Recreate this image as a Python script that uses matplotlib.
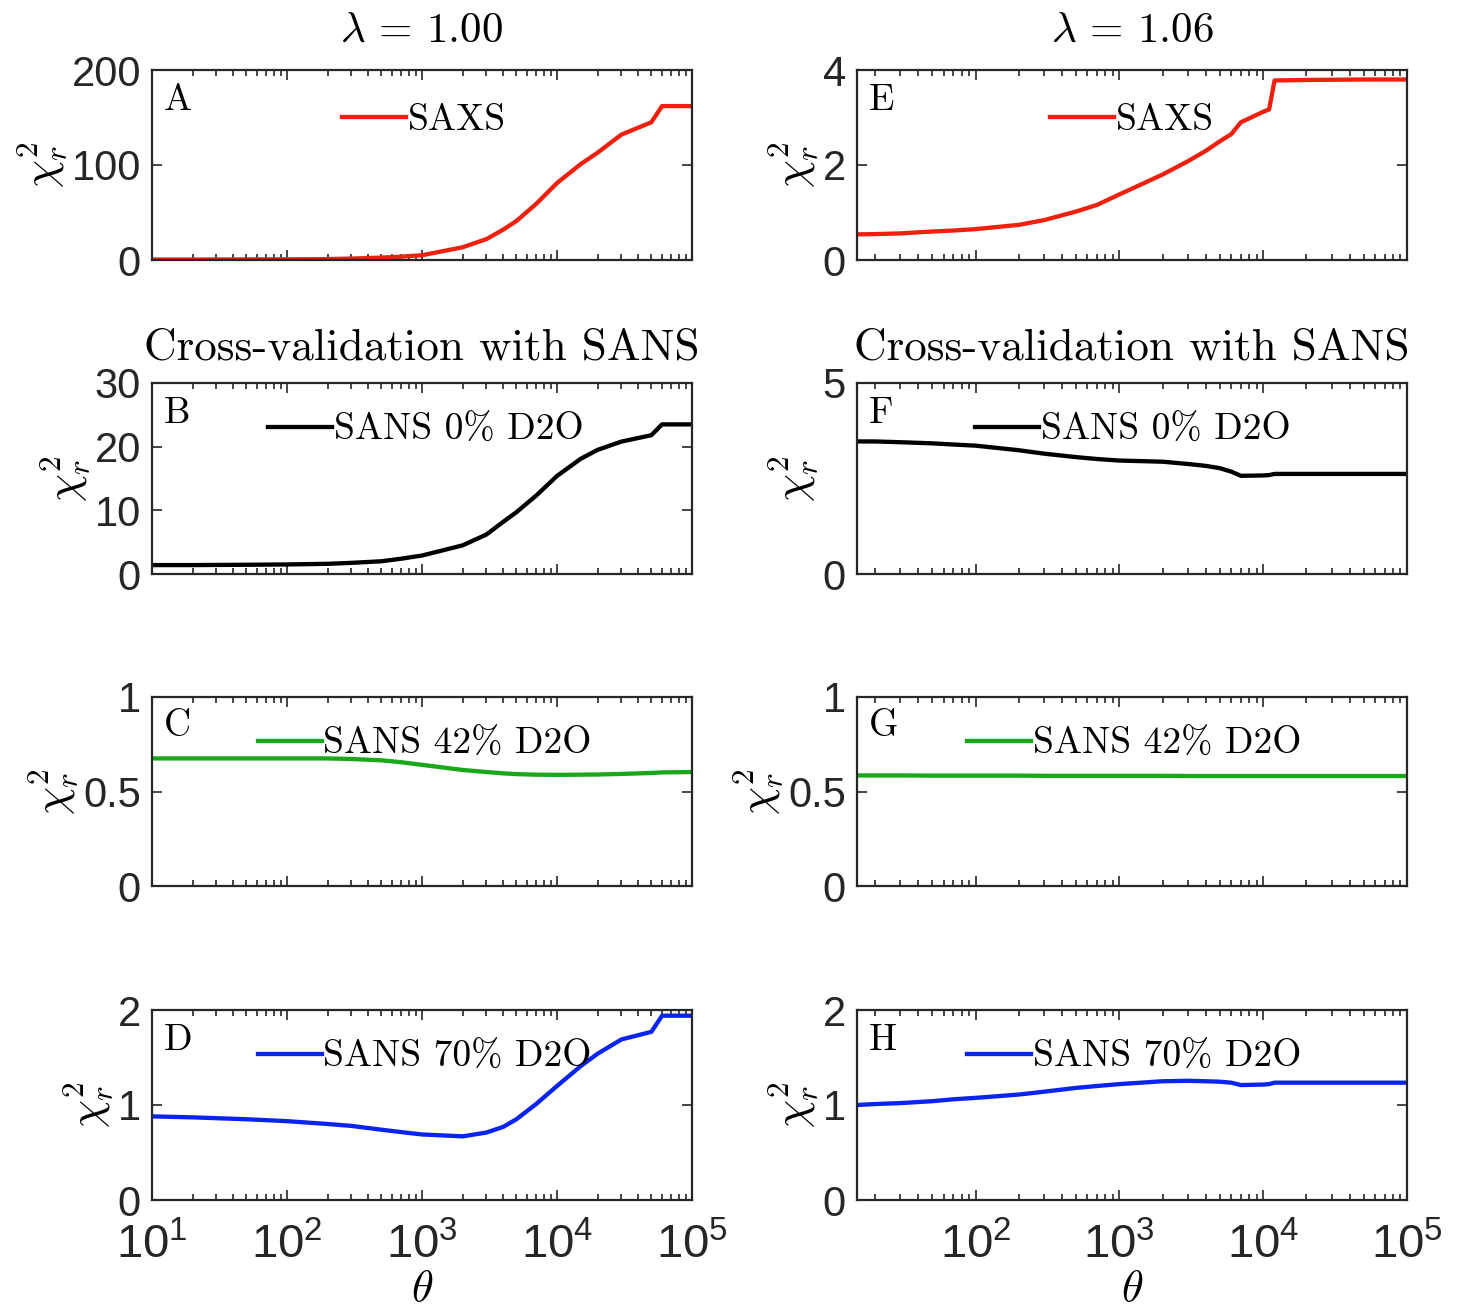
import matplotlib
matplotlib.use('Agg')
import matplotlib.pyplot as plt
from matplotlib.lines import Line2D
from matplotlib.ticker import FormatStrFormatter, LogLocator, NullFormatter

plt.rcParams['font.family'] = ['Liberation Sans', 'DejaVu Sans']
plt.rcParams['mathtext.fontset'] = 'cm'

# theta grid, lambda = 1.00 (left column)
theta_left = [10, 20, 50, 100, 200, 300, 500, 700, 1000, 2000, 3000, 4000, 5000,
              7000, 10000, 15000, 20000, 30000, 50000, 60000, 100000]
saxs_left = [0.5, 0.5, 0.6, 0.7, 1.0, 1.5, 2.5, 3.5, 5.0, 13.4, 22, 32, 41,
             59, 81, 101, 113, 132, 145, 162, 162]
sans0_left = [1.4, 1.4, 1.45, 1.5, 1.6, 1.75, 2.0, 2.4, 2.9, 4.5, 6.2, 8.2, 9.7,
              12.3, 15.4, 18.1, 19.5, 20.8, 21.8, 23.5, 23.5]
sans42_left = [0.675, 0.675, 0.675, 0.675, 0.675, 0.672, 0.665, 0.655, 0.641, 0.614,
               0.603, 0.596, 0.592, 0.589, 0.588, 0.589, 0.590, 0.593, 0.598, 0.601, 0.603]
sans70_left = [0.88, 0.87, 0.85, 0.83, 0.80, 0.78, 0.74, 0.715, 0.69, 0.67, 0.71, 0.77,
               0.85, 1.01, 1.20, 1.41, 1.54, 1.69, 1.77, 1.94, 1.94]

# theta grid, lambda = 1.06 (right column)
theta_right = [15, 20, 30, 50, 70, 100, 200, 300, 500, 700, 1000, 2000, 3000, 4000,
               5000, 6000, 7000, 10000, 11000, 12000, 20000, 50000, 100000]
saxs_right = [0.54, 0.545, 0.56, 0.60, 0.62, 0.65, 0.74, 0.84, 1.02, 1.16, 1.38, 1.80,
              2.08, 2.30, 2.50, 2.65, 2.90, 3.12, 3.17, 3.78, 3.79, 3.80, 3.80]
sans0_right = [3.47, 3.47, 3.45, 3.42, 3.39, 3.36, 3.24, 3.15, 3.06, 3.01, 2.97, 2.94,
               2.88, 2.83, 2.77, 2.68, 2.57, 2.58, 2.59, 2.62, 2.62, 2.62, 2.62]
sans42_right = [0.585, 0.585, 0.585, 0.584, 0.584, 0.584, 0.584, 0.583, 0.583, 0.583,
                0.583, 0.583, 0.582, 0.582, 0.582, 0.582, 0.582, 0.582, 0.582, 0.582,
                0.582, 0.582, 0.582]
sans70_right = [1.0, 1.01, 1.02, 1.04, 1.06, 1.075, 1.11, 1.14, 1.18, 1.20, 1.22, 1.25,
                1.255, 1.25, 1.245, 1.235, 1.21, 1.215, 1.22, 1.235, 1.235, 1.235, 1.235]

labels = ['SAXS', 'SANS 0% D2O', 'SANS 42% D2O', 'SANS 70% D2O']
colors = ['#f0200f', 'black', '#18a818', '#0a24f0']
letters_left = ['A', 'B', 'C', 'D']
letters_right = ['E', 'F', 'G', 'H']
yticks = [[0, 100, 200], [0, 10, 20, 30], [0, 0.5, 1], [0, 1, 2]]
yticks_right = [[0, 2, 4], [0, 5], [0, 0.5, 1], [0, 1, 2]]

W, H = 1457, 1308
fig = plt.figure(figsize=(W / 100, H / 100), dpi=100)

rows = [(70, 260), (383, 574), (697, 886), (1010, 1200)]
cols = [(152, 692), (857, 1407)]
leg_left = [(0.352, 0.735), (0.215, 0.75), (0.196, 0.748), (0.196, 0.752)]
leg_right = [(0.351, 0.735), (0.2145, 0.75), (0.200, 0.748), (0.200, 0.752)]

columns = [
    (theta_left, [saxs_left, sans0_left, sans42_left, sans70_left], letters_left,
     yticks, leg_left, (10, 1e5), r'$\lambda\, =\, 1.00$'),
    (theta_right, [saxs_right, sans0_right, sans42_right, sans70_right], letters_right,
     yticks_right, leg_right, (15, 1e5), r'$\lambda\, =\, 1.06$'),
]

for c, (theta, series, letters, ytk_col, leg_col, xlim, title) in enumerate(columns):
    x0, x1 = cols[c]
    for r in range(4):
        t, b = rows[r]
        ytk = ytk_col[r]
        ax = fig.add_axes([x0 / W, 1 - b / H, (x1 - x0) / W, (b - t) / H])
        ax.plot(theta, series[r], color=colors[r], lw=3.1)
        ax.set_xscale('log')
        ax.set_xlim(*xlim)
        ax.set_ylim(ytk[0], ytk[-1])
        ax.set_yticks(ytk)
        ax.yaxis.set_major_formatter(FormatStrFormatter('%g'))
        ax.xaxis.set_major_locator(LogLocator(base=10, numticks=10))
        ax.xaxis.set_minor_locator(LogLocator(base=10, subs=range(2, 10), numticks=20))
        ax.xaxis.set_minor_formatter(NullFormatter())
        ax.tick_params(which='both', direction='in', top=True, right=True,
                       colors='#262626', labelcolor='#262626', width=1.2)
        ax.tick_params(axis='y', which='major', length=7, labelsize=30, pad=8)
        ax.tick_params(axis='x', which='major', length=7, labelsize=34, pad=17)
        ax.tick_params(which='minor', length=4)
        for sp in ax.spines.values():
            sp.set_linewidth(1.6)
            sp.set_color('#262626')
        if r < 3:
            ax.tick_params(axis='x', labelbottom=False)
        else:
            ax.set_xlabel(r'$\theta$', fontsize=32, labelpad=0)
        ax.set_ylabel(r'$\chi^2_r$', fontsize=32, labelpad=2)
        ax.text(0.022, 0.93, letters[r], transform=ax.transAxes, ha='left', va='top',
                fontsize=27, family='cmr10')
        h = Line2D([], [], color=colors[r], lw=3.1)
        ax.legend([h], [labels[r]], loc='center left', bbox_to_anchor=leg_col[r],
                  frameon=False, prop={'family': 'cmr10', 'size': 27},
                  handlelength=1.7, handletextpad=0.05, borderpad=0, borderaxespad=0)
        if r == 0:
            ax.set_title(title, fontsize=31, pad=20)
        elif r == 1:
            ax.set_title('Cross-validation with SANS', fontsize=32.5, family='cmr10', pad=17)

fig.savefig('out.png', dpi=100)
